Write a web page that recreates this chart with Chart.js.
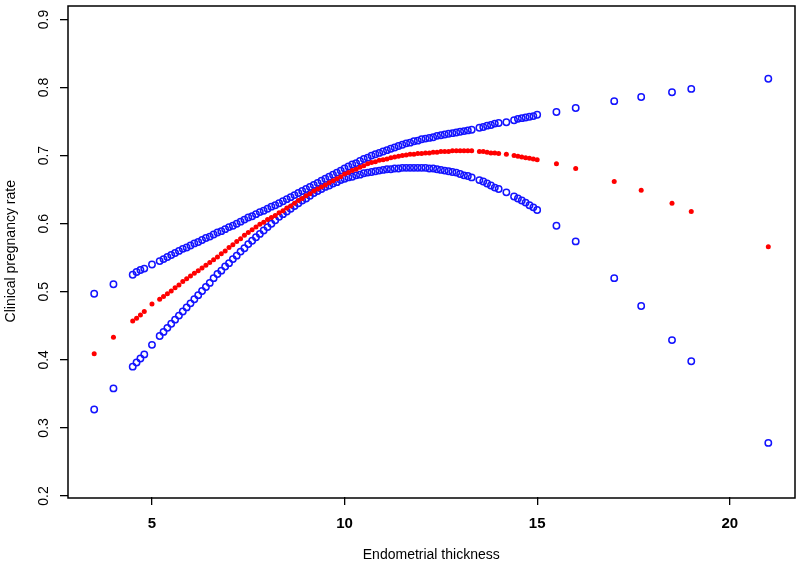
<!DOCTYPE html>
<html>
<head>
<meta charset="utf-8">
<script src="https://cdn.jsdelivr.net/npm/chart.js@4/dist/chart.umd.min.js"></script>
<style>
  html, body { margin: 0; padding: 0; background: #fff; }
</style>
</head>
<body>
<canvas id="c" width="800" height="564"></canvas>
<script>
// endometrial thickness (mm)
const thickness = [
    3.5, 4.0, 4.5, 4.6, 4.7, 4.8, 5.0,
    5.2, 5.3, 5.4, 5.5, 5.6, 5.7, 5.8, 5.9, 6.0,
    6.1, 6.2, 6.3, 6.4, 6.5, 6.6, 6.7, 6.8, 6.9, 7.0,
    7.1, 7.2, 7.3, 7.4, 7.5, 7.6, 7.7, 7.8, 7.9, 8.0,
    8.1, 8.2, 8.3, 8.4, 8.5, 8.6, 8.7, 8.8, 8.9, 9.0,
    9.1, 9.2, 9.3, 9.4, 9.5, 9.6, 9.7, 9.8, 9.9, 10.0,
    10.1, 10.2, 10.3, 10.4, 10.5, 10.6, 10.7, 10.8, 10.9, 11.0,
    11.1, 11.2, 11.3, 11.4, 11.5, 11.6, 11.7, 11.8, 11.9, 12.0,
    12.1, 12.2, 12.3, 12.4, 12.5, 12.6, 12.7, 12.8, 12.9, 13.0,
    13.1, 13.2, 13.3,
    13.5, 13.6, 13.7, 13.8, 13.9, 14.0,
    14.2, 14.4, 14.5, 14.6, 14.7, 14.8, 14.9, 15.0,
    15.5, 16.0, 17.0, 17.7, 18.5, 19.0, 21.0
];

// fitted rate
const fitRate = [
    0.409, 0.433, 0.457, 0.461, 0.466, 0.471, 0.482,
    0.489, 0.493, 0.497, 0.501, 0.506, 0.510, 0.515, 0.519, 0.523,
    0.527, 0.531, 0.535, 0.539, 0.543, 0.547, 0.551, 0.556, 0.560, 0.565,
    0.569, 0.574, 0.578, 0.583, 0.587, 0.591, 0.595, 0.599, 0.602, 0.606,
    0.609, 0.612, 0.616, 0.619, 0.623, 0.626, 0.630, 0.634, 0.637, 0.641,
    0.644, 0.648, 0.651, 0.654, 0.657, 0.660, 0.663, 0.666, 0.669, 0.673,
    0.675, 0.678, 0.680, 0.683, 0.685, 0.688, 0.690, 0.691, 0.693, 0.694,
    0.695, 0.697, 0.698, 0.699, 0.700, 0.701, 0.702, 0.702, 0.703, 0.703,
    0.704, 0.704, 0.705, 0.705, 0.706, 0.706, 0.706, 0.707, 0.707, 0.707,
    0.707, 0.707, 0.707,
    0.706, 0.706, 0.705, 0.704, 0.704, 0.703,
    0.702, 0.700, 0.699, 0.698, 0.697, 0.696, 0.695, 0.694,
    0.688, 0.681, 0.662, 0.649, 0.630, 0.618, 0.566
];

// upper 95% CI
const upperCI = [
    0.497, 0.511, 0.525, 0.529, 0.532, 0.534, 0.540,
    0.545, 0.548, 0.551, 0.554, 0.557, 0.560, 0.563, 0.565, 0.568,
    0.571, 0.573, 0.576, 0.579, 0.581, 0.584, 0.587, 0.589, 0.592, 0.595,
    0.597, 0.600, 0.603, 0.606, 0.609, 0.611, 0.614, 0.617, 0.619, 0.622,
    0.625, 0.627, 0.630, 0.633, 0.636, 0.639, 0.642, 0.645, 0.648, 0.651,
    0.654, 0.657, 0.660, 0.663, 0.666, 0.669, 0.672, 0.675, 0.678, 0.681,
    0.684, 0.687, 0.689, 0.692, 0.695, 0.697, 0.700, 0.702, 0.704, 0.706,
    0.708, 0.710, 0.712, 0.714, 0.716, 0.718, 0.719, 0.721, 0.722, 0.724,
    0.725, 0.726, 0.727, 0.729, 0.730, 0.731, 0.732, 0.733, 0.734, 0.735,
    0.736, 0.737, 0.738,
    0.741, 0.742, 0.744, 0.745, 0.747, 0.748,
    0.749, 0.752, 0.754, 0.755, 0.756, 0.757, 0.758, 0.760,
    0.764, 0.770, 0.780, 0.786, 0.793, 0.798, 0.813
];

// lower 95% CI
const lowerCI = [
    0.327, 0.358, 0.390, 0.396, 0.402, 0.408, 0.422,
    0.435, 0.441, 0.447, 0.453, 0.459, 0.465, 0.471, 0.477, 0.483,
    0.489, 0.495, 0.501, 0.507, 0.513, 0.520, 0.526, 0.531, 0.537, 0.542,
    0.548, 0.553, 0.559, 0.564, 0.570, 0.575, 0.580, 0.585, 0.590, 0.595,
    0.600, 0.605, 0.610, 0.614, 0.618, 0.622, 0.626, 0.630, 0.634, 0.637,
    0.641, 0.645, 0.648, 0.651, 0.654, 0.656, 0.659, 0.661, 0.664, 0.666,
    0.668, 0.669, 0.671, 0.672, 0.674, 0.675, 0.676, 0.677, 0.678, 0.679,
    0.680, 0.680, 0.681, 0.681, 0.682, 0.682, 0.682, 0.682, 0.682, 0.682,
    0.682, 0.681, 0.681, 0.680, 0.679, 0.678, 0.677, 0.676, 0.675, 0.673,
    0.671, 0.670, 0.668,
    0.664, 0.662, 0.659, 0.656, 0.653, 0.651,
    0.646, 0.640, 0.637, 0.634, 0.631, 0.627, 0.624, 0.620,
    0.597, 0.574, 0.520, 0.479, 0.429, 0.398, 0.278
];

const xTicks = [5, 10, 15, 20];
const yTicks = [0.2, 0.3, 0.4, 0.5, 0.6, 0.7, 0.8, 0.9];

const toPoints = (ys) => thickness.map((x, i) => ({ x: x, y: ys[i] }));

const FONT = "'Liberation Sans', Arial, sans-serif";

// R-style box around the plot region
const boxPlugin = {
    id: 'box',
    afterDraw(chart) {
        const a = chart.chartArea;
        const ctx = chart.ctx;
        ctx.save();
        ctx.strokeStyle = '#000';
        ctx.lineWidth = 1.5;
        ctx.strokeRect(Math.round(a.left), Math.round(a.top), Math.round(a.right - a.left), Math.round(a.bottom - a.top));
        ctx.restore();
    }
};

new Chart(document.getElementById('c').getContext('2d'), {
    type: 'scatter',
    data: {
        datasets: [
            {
                label: 'fit',
                data: toPoints(fitRate),
                pointStyle: 'circle',
                pointRadius: 2.5,
                borderWidth: 0,
                backgroundColor: '#ff0000'
            },
            {
                label: 'upper',
                data: toPoints(upperCI),
                pointStyle: 'circle',
                pointRadius: 3.2,
                borderWidth: 1.5,
                borderColor: '#1414ff',
                backgroundColor: 'rgba(0,0,0,0)'
            },
            {
                label: 'lower',
                data: toPoints(lowerCI),
                pointStyle: 'circle',
                pointRadius: 3.2,
                borderWidth: 1.5,
                borderColor: '#1414ff',
                backgroundColor: 'rgba(0,0,0,0)'
            }
        ]
    },
    options: {
        responsive: false,
        animation: false,
        layout: { padding: { top: 3, right: 4, left: 0, bottom: 0 } },
        plugins: {
            legend: { display: false },
            tooltip: { enabled: false }
        },
        scales: {
            x: {
                type: 'linear',
                min: 2.82,
                max: 21.68,
                afterFit: (s) => { s.height = 67; s.paddingLeft = 0; s.paddingRight = 0; },
                afterBuildTicks: (s) => { s.ticks = xTicks.map((v) => ({ value: v })); },
                border: { display: false },
                grid: { drawOnChartArea: false, drawTicks: true, tickLength: 8, color: '#000', lineWidth: 1.3 },
                ticks: {
                    color: '#000',
                    padding: 10,
                    maxRotation: 0,
                    font: { family: FONT, size: 15, weight: 'bold' }
                },
                title: {
                    display: true,
                    text: 'Endometrial thickness',
                    color: '#000',
                    padding: { top: 0, bottom: 0 },
                    font: { family: FONT, size: 14 }
                }
            },
            y: {
                type: 'linear',
                min: 0.1985,
                max: 0.9205,
                afterFit: (s) => { s.width = 68; s.paddingTop = 0; s.paddingBottom = 0; },
                afterBuildTicks: (s) => { s.ticks = yTicks.map((v) => ({ value: v })); },
                border: { display: false },
                grid: { drawOnChartArea: false, drawTicks: true, tickLength: 8, color: '#000', lineWidth: 1.3 },
                ticks: {
                    color: '#000',
                    padding: 6,
                    minRotation: 90,
                    maxRotation: 90,
                    crossAlign: 'center',
                    callback: (v) => v.toFixed(1),
                    font: { family: FONT, size: 14 }
                },
                title: {
                    display: true,
                    text: 'Clinical pregnancy rate',
                    color: '#000',
                    padding: { top: 3, bottom: 0 },
                    font: { family: FONT, size: 14 }
                }
            }
        }
    },
    plugins: [boxPlugin]
});
</script>
</body>
</html>
